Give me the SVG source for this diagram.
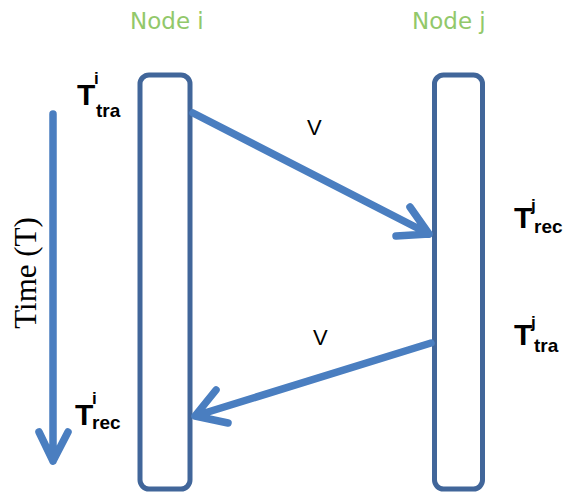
<svg xmlns="http://www.w3.org/2000/svg" width="563" height="495" viewBox="0 0 563 495">
<style>
.node{fill:#fff;stroke:#41669a;stroke-width:5}
.title{font-family:"DejaVu Sans",sans-serif;font-size:23px;fill:#92c86a}
.arr{fill:none;stroke:#4a7ec0;stroke-width:7.5;stroke-linecap:round;stroke-linejoin:round}
.lbl{font-family:"Liberation Sans",Arial,sans-serif;font-weight:bold;fill:#000}
.v{font-family:"Liberation Sans",Arial,sans-serif;font-size:22px;fill:#000}
.time{font-family:"Liberation Serif","Times New Roman",serif;font-size:31px;fill:#000}
</style>
<rect width="563" height="495" fill="#fff"/>
<g id="node-i">
<rect class="node" x="140" y="75" width="50" height="414" rx="9"/>
<text class="title" x="130" y="29">Node i</text>
</g>
<g id="node-j">
<rect class="node" x="434.5" y="75" width="48" height="414" rx="9"/>
<text class="title" x="412" y="29">Node j</text>
</g>
<g id="connectors">
<path class="arr" d="M193 113 L429 234 M396 236 L429 234 L410 207"/>
<path class="arr" d="M431 343 L195 416 M216 390 L195 416 L228 423"/>
<path class="arr" d="M53 114 L53 461 M39 432 L53 461 L68 432"/>
</g>
<g id="labels">
<text class="v" x="307" y="135">V</text>
<text class="v" x="313" y="345">V</text>
<text class="time" transform="translate(36 273) rotate(-90)" text-anchor="middle">Time (T)</text>
<text class="lbl" x="77" y="105" font-size="30">T</text>
<text class="lbl" x="94" y="84" font-size="17">i</text>
<text class="lbl" x="96" y="117" font-size="19">tra</text>
<text class="lbl" x="75" y="425" font-size="30">T</text>
<text class="lbl" x="92" y="404" font-size="17">i</text>
<text class="lbl" x="92" y="429" font-size="19">rec</text>
<text class="lbl" x="514" y="228" font-size="30">T</text>
<text class="lbl" x="531" y="211" font-size="17">j</text>
<text class="lbl" x="534" y="233" font-size="19">rec</text>
<text class="lbl" x="514" y="345" font-size="30">T</text>
<text class="lbl" x="531" y="328" font-size="17">j</text>
<text class="lbl" x="534" y="352" font-size="19">tra</text>
</g>
</svg>
